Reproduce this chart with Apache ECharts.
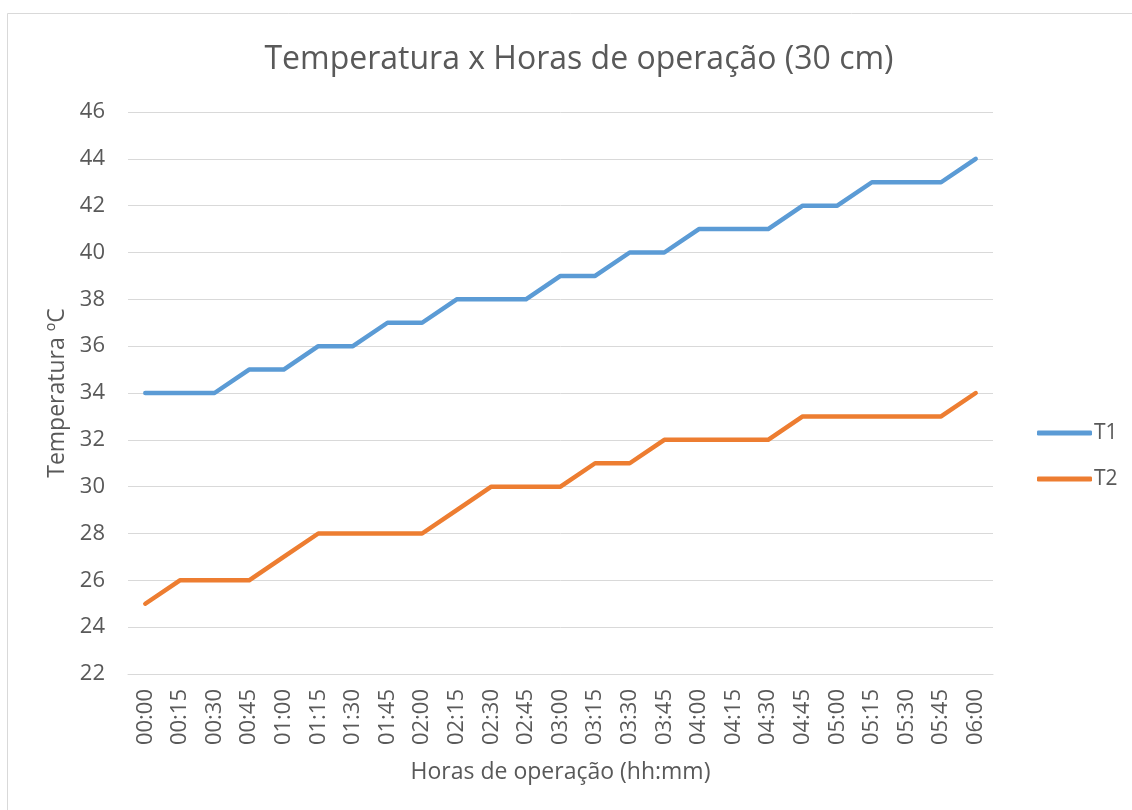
<!DOCTYPE html>
<html>
<head>
<meta charset="utf-8">
<script src="https://cdn.jsdelivr.net/npm/echarts@6/dist/echarts.min.js"></script>
<style>
  html, body { margin: 0; padding: 0; background: #ffffff; }
  #chart { width: 1132px; height: 810px; }
</style>
</head>
<body>
<div id="chart"></div>
<script>
// Time of operation, every 15 minutes
const horas = ['00:00','00:15','00:30','00:45','01:00','01:15','01:30','01:45','02:00',
  '02:15','02:30','02:45','03:00','03:15','03:30','03:45','04:00','04:15','04:30',
  '04:45','05:00','05:15','05:30','05:45','06:00'];

// Temperatures (ºC)
const t1 = [34,34,34,35,35,36,36,37,37,38,38,38,39,39,40,40,41,41,41,42,42,43,43,43,44];
const t2 = [25,26,26,26,27,28,28,28,28,29,30,30,30,31,31,32,32,32,32,33,33,33,33,33,34];

const seriesNames = ['T1', 'T2'];
const yTicks = { min: 22, max: 46, interval: 2 };

const FONT = '"Open Sans", "Noto Sans", sans-serif';
const TXT = '#595959';

const chart = echarts.init(document.getElementById('chart'), null, { renderer: 'canvas' });

chart.setOption({
  backgroundColor: '#ffffff',
  animation: false,
  textStyle: { fontFamily: FONT, color: TXT },
  graphic: [{
    type: 'rect',
    shape: { x: 7.5, y: 13.5, width: 1140, height: 820 },
    style: { fill: 'none', stroke: '#d9d9d9', lineWidth: 1 },
    silent: true
  }],
  title: {
    text: 'Temperatura x Horas de operação (30 cm)',
    left: 574,
    top: 39,
    textAlign: 'center',
    textStyle: { fontFamily: FONT, fontSize: 32, fontWeight: 'normal', color: TXT }
  },
  legend: {
    orient: 'vertical',
    left: 1032,
    top: 417,
    itemGap: 24,
    itemWidth: 55,
    itemHeight: 5,
    icon: 'roundRect',
    textStyle: { fontFamily: FONT, fontSize: 21, lineHeight: 22, color: TXT, padding: [0, 0, 0, -3] },
    data: seriesNames
  },
  grid: { left: 128, right: 139, top: 112, bottom: 136, containLabel: false },
  xAxis: {
    type: 'category',
    data: horas,
    boundaryGap: true,
    name: 'Horas de operação (hh:mm)',
    nameLocation: 'middle',
    nameGap: 87,
    nameTextStyle: { fontFamily: FONT, fontSize: 23, color: TXT },
    axisLine: { show: true, lineStyle: { color: '#d9d9d9', width: 1 } },
    axisTick: { show: false },
    axisLabel: { rotate: 90, margin: 15, fontFamily: FONT, fontSize: 22, color: TXT, interval: 0 },
    splitLine: { show: false }
  },
  yAxis: {
    type: 'value',
    min: yTicks.min,
    max: yTicks.max,
    interval: yTicks.interval,
    name: 'Temperatura ºC',
    nameLocation: 'middle',
    nameGap: 57,
    nameTextStyle: { fontFamily: FONT, fontSize: 23, color: TXT },
    axisLine: { show: false },
    axisTick: { show: false },
    axisLabel: { margin: 23, fontFamily: FONT, fontSize: 22, color: TXT },
    splitLine: { show: true, lineStyle: { color: '#d9d9d9', width: 1 } }
  },
  series: [
    {
      name: seriesNames[0],
      type: 'line',
      data: t1,
      symbol: 'none',
      color: '#5B9BD5',
      lineStyle: { width: 4.5, color: '#5B9BD5', cap: 'round', join: 'round' }
    },
    {
      name: seriesNames[1],
      type: 'line',
      data: t2,
      symbol: 'none',
      color: '#ED7D31',
      lineStyle: { width: 4.5, color: '#ED7D31', cap: 'round', join: 'round' }
    }
  ]
});
</script>
</body>
</html>
